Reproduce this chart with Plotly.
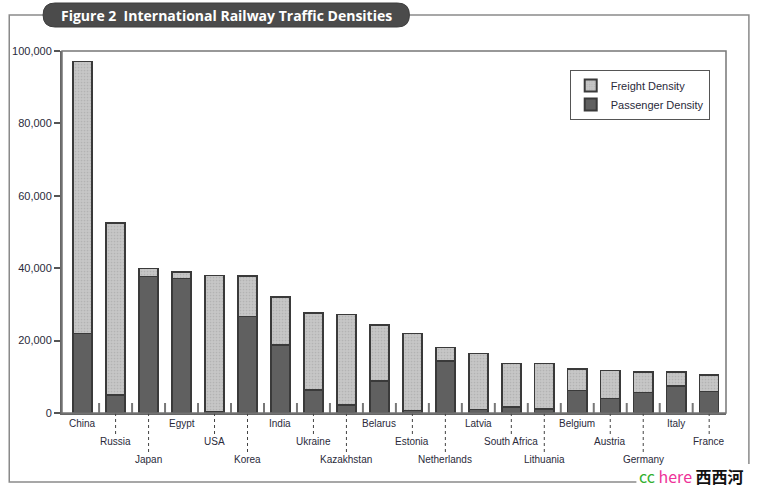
import plotly.graph_objects as go

countries = ["China", "Russia", "Japan", "Egypt", "USA", "Korea", "India", "Ukraine",
             "Kazakhstan", "Belarus", "Estonia", "Netherlands", "Latvia", "South Africa",
             "Lithuania", "Belgium", "Austria", "Germany", "Italy", "France"]
total_density = [97100, 52500, 39900, 39000, 38000, 37800, 32000, 27600, 27200, 24300,
                 21900, 18100, 16500, 13700, 13700, 12100, 11700, 11300, 11300, 10500]
passenger_density = [22000, 5000, 37700, 37100, 300, 26700, 18800, 6400, 2200, 8800,
                     700, 14400, 1000, 1700, 1100, 6200, 4000, 5600, 7500, 5900]
freight_density = [t - p for t, p in zip(total_density, passenger_density)]
label_rows = [1, 2, 3, 1, 2, 3, 1, 2, 3, 1, 2, 3, 1, 2, 3, 1, 2, 3, 1, 2]
y_ticks = [0, 20000, 40000, 60000, 80000, 100000]

x = list(range(len(countries)))

# pixel geometry helpers (plot area: x 59..726, y 51..413)
L, R, T, B = 59, 726, 51, 413
def px(xp):
    return (xp - L) / (R - L)
def py(yp):
    return (B - yp) / (B - T)

fig = go.Figure()
fig.add_trace(go.Bar(
    x=x, y=passenger_density, name="Passenger Density", width=0.58,
    marker=dict(color="#606060", line=dict(color="#3a3a3a", width=1.5)),
))
fig.add_trace(go.Bar(
    x=x, y=freight_density, name="Freight Density", width=0.58,
    marker=dict(color="#c2c2c2", line=dict(color="#3a3a3a", width=1.5),
                pattern=dict(shape=".", fgcolor="#a0a0a0", bgcolor="#c6c6c6", size=3, solidity=0.25)),
))

shapes = []
annotations = []
shifts = {1: -3, 2: -21, 3: -39}
line_end = {2: -(435 - B) / (B - T), 3: -(453 - B) / (B - T)}
for i, (c, r) in enumerate(zip(countries, label_rows)):
    annotations.append(dict(x=i, y=0, xref="x", yref="paper", text=c, showarrow=False,
                            yanchor="top", xanchor="center", yshift=shifts[r],
                            font=dict(family="Liberation Sans", size=10, color="#2a2a3a")))
    if r in line_end:
        shapes.append(dict(type="line", xref="x", yref="paper", x0=i, x1=i, y0=0, y1=line_end[r],
                           line=dict(color="#444", width=1, dash="dot")))
for i in range(len(countries) - 1):
    shapes.append(dict(type="line", xref="x", yref="paper", x0=i + 0.5, x1=i + 0.5,
                       y0=0, y1=10 / (B - T), line=dict(color="#777", width=2)))

# plot frame
shapes.append(dict(type="rect", xref="paper", yref="paper", x0=0, x1=1, y0=0, y1=1,
                   line=dict(color="#777", width=1.5), layer="above"))
# outer frame (bottom-right corner hidden behind the watermark)
ox0, ox1, oy0, oy1 = px(6), px(749), py(482), py(15)
shapes.append(dict(type="path", xref="paper", yref="paper",
                   path=(f"M {px(40)},{oy1} L {ox0},{oy1} L {ox0},{oy0} L {px(636)},{oy0} "
                         f"M {ox1},{py(464)} L {ox1},{oy1} L {px(408)},{oy1}"),
                   line=dict(color="#8a8a8a", width=1.5)))
# title banner (rounded)
bx0, bx1, by0, by1 = px(40), px(408), py(27), py(3)
rx = 12 / (R - L)
ym = (by0 + by1) / 2
banner = (f"M {bx0 + rx},{by1} L {bx1 - rx},{by1} Q {bx1},{by1} {bx1},{ym} "
          f"Q {bx1},{by0} {bx1 - rx},{by0} L {bx0 + rx},{by0} Q {bx0},{by0} {bx0},{ym} "
          f"Q {bx0},{by1} {bx0 + rx},{by1} Z")
shapes.append(dict(type="path", xref="paper", yref="paper", path=banner,
                   fillcolor="#4b4b4b", line=dict(color="#3e3e3e", width=1)))
annotations.append(dict(x=px(224), y=py(15), xref="paper", yref="paper", showarrow=False,
                        text="<b>Figure 2  International Railway Traffic Densities</b>",
                        font=dict(family="Open Sans", size=14, color="white"),
                        xanchor="center", yanchor="middle"))
# watermark
annotations.append(dict(x=px(638), y=py(476), xref="paper", yref="paper", showarrow=False,
                        xanchor="left", yanchor="middle", borderpad=0,
                        text="<span style='color:#33b030'>cc</span> <span style='color:#ee3399'>here</span> "
                             "<span style='color:#111'><b>西西河</b></span>",
                        font=dict(family="Noto Sans CJK SC", size=16)))

fig.update_layout(
    width=761, height=488,
    margin=dict(l=L, r=761 - R, t=T, b=488 - B),
    paper_bgcolor="white", plot_bgcolor="white",
    barmode="stack", bargap=0.42,
    showlegend=True,
    legend=dict(x=px(569), y=py(70), xanchor="left", yanchor="top", traceorder="reversed",
                bordercolor="#555", borderwidth=1, bgcolor="white",
                font=dict(family="Liberation Sans", size=11, color="#2a2a3a"),
                itemsizing="constant", tracegroupgap=4),
    xaxis=dict(range=[-0.625, 19.51], showticklabels=False, ticks="", showgrid=False,
               zeroline=False, showline=True, linecolor="#666", linewidth=2),
    yaxis=dict(range=[0, 100000], tickvals=y_ticks, tickformat=",", ticks="outside", ticklen=6,
               tickcolor="#555", tickwidth=1.5, showgrid=False, zeroline=False, showline=True,
               linecolor="#666", linewidth=2,
               tickfont=dict(family="Liberation Sans", size=11, color="#2a2a3a")),
    shapes=shapes, annotations=annotations,
)

fig.write_html("out.html", config={"displayModeBar": False},
               post_script="document.body.style.margin='0';document.body.style.overflow='hidden';")
